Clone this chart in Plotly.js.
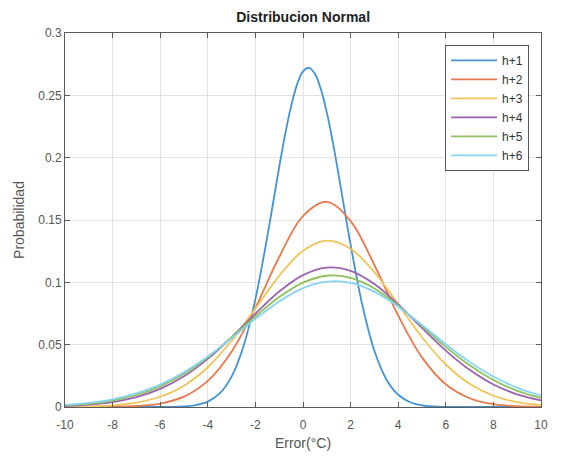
<!DOCTYPE html>
<html>
<head>
<meta charset="utf-8">
<script src="https://cdn.plot.ly/plotly-3.0.1.min.js"></script>
<style>html,body{margin:0;padding:0;background:#fff;}#chart{width:572px;height:456px;}</style>
</head>
<body>
<div id="chart"></div>
<script>
// x grids
const xFine = [-10,-9.5,-9,-8.5,-8,-7.5,-7,-6.5,-6,-5.5,-5,-4.5,-4,-3.5,-3,-2.5,-2,-1.5,-1,-0.75,-0.5,-0.25,0,0.25,0.5,0.75,1,1.25,1.5,2,2.5,3,3.5,4,4.5,5,5.5,6,6.5,7,7.5,8,8.5,9,9.5,10];
const xCoarse = [-10,-9,-8,-7,-6,-5,-4,-3,-2,-1,0,1,2,3,4,5,6,7,8,9,10];

const seriesNames = ["h+1","h+2","h+3","h+4","h+5","h+6"];

// h+1 (on xFine)
const h1 = [0,0,0,0,0,0,0,0,0.00003,0.00013,0.00048,0.00153,0.00432,0.01088,0.0244,0.0487,0.0865,0.1368,0.1925,0.2187,0.2413,0.2586,0.2692,0.2721,0.2673,0.2550,0.2363,0.2127,0.1859,0.1302,0.0812,0.0451,0.0223,0.0098,0.00384,0.00134,0.00041,0.00011,0.00003,0.00001,0,0,0,0,0,0];
// h+2 .. h+6 (on xCoarse)
const h2 = [0.000006,0.000037,0.000186,0.000784,0.00278,0.0083,0.0209,0.0444,0.0796,0.1203,0.1532,0.1646,0.1491,0.1139,0.0734,0.0398,0.0182,0.00705,0.00229,0.00063,0.000146];
const h3 = [0.000143,0.000466,0.00136,0.00353,0.00823,0.0171,0.0319,0.0531,0.079,0.1052,0.1253,0.1334,0.127,0.1081,0.0823,0.056,0.0341,0.0186,0.00904,0.00393,0.00153];
const h4 = [0.0008,0.00186,0.00399,0.00792,0.01453,0.0246,0.0386,0.0559,0.0748,0.0926,0.1058,0.1118,0.1092,0.0986,0.0822,0.0634,0.0452,0.0298,0.0181,0.0102,0.0053];
const h5 = [0.00123,0.00263,0.00521,0.00963,0.0166,0.0267,0.0399,0.0558,0.0726,0.0882,0.0998,0.1053,0.1036,0.0951,0.0813,0.0649,0.0482,0.0334,0.0216,0.013,0.0073];
const h6 = [0.00164,0.00328,0.00617,0.01088,0.018,0.0279,0.0405,0.0552,0.0707,0.0847,0.0954,0.1006,0.0996,0.0925,0.0805,0.0658,0.0504,0.0362,0.0244,0.0154,0.0091];

const xTicks = [-10,-8,-6,-4,-2,0,2,4,6,8,10];
const yTicks = [0,0.05,0.1,0.15,0.2,0.25,0.3];
const yTickText = ["0","0.05","0.1","0.15","0.2","0.25","0.3"];

const colors = ["#4494d4","#e77a4e","#f1c457","#9c63ae","#8fc159","#84d5f4"];
const xs = [xFine, xCoarse, xCoarse, xCoarse, xCoarse, xCoarse];
const ys = [h1, h2, h3, h4, h5, h6];

const traces = seriesNames.map((n, i) => ({
  type: "scatter", mode: "lines", name: n,
  x: xs[i], y: ys[i],
  line: {color: colors[i], width: 1.8, shape: "spline", smoothing: 1}
}));

const font = "Liberation Sans, Arial, Helvetica, sans-serif";
const axisCommon = {
  showline: true, mirror: "ticks", linecolor: "#5a5a5a", linewidth: 1,
  ticks: "inside", ticklen: 5, tickcolor: "#5a5a5a", tickwidth: 1,
  showgrid: true, gridcolor: "#e3e3e3", gridwidth: 1, zeroline: false,
  tickfont: {family: font, size: 12, color: "#555"}
};

const layout = {
  width: 572, height: 456,
  margin: {l: 65, r: 31, t: 33, b: 49, pad: 0},
  paper_bgcolor: "#fff", plot_bgcolor: "#fff",
  title: {text: "<b>Distribucion Normal</b>", x: 0.53, xanchor: "center", y: 0.963, yanchor: "middle",
          font: {family: font, size: 14, color: "#222"}},
  xaxis: Object.assign({}, axisCommon, {
    range: [-10, 10], tickvals: xTicks, ticktext: xTicks.map(String),
    ticklabelstandoff: 7,
    title: {text: "Error(°C)", standoff: 6, font: {family: font, size: 14, color: "#555"}}
  }),
  yaxis: Object.assign({}, axisCommon, {
    range: [0, 0.3], tickvals: yTicks, ticktext: yTickText,
    title: {text: "Probabilidad", standoff: 10, font: {family: font, size: 14, color: "#555"}}
  }),
  showlegend: true,
  legend: {
    x: 0.975, xanchor: "right", y: 0.968, yanchor: "top",
    bgcolor: "#fff", bordercolor: "#555", borderwidth: 1,
    font: {family: font, size: 12, color: "#333"},
    itemwidth: 46,
    tracegroupgap: 0
  }
};

Plotly.newPlot("chart", traces, layout, {staticPlot: true, displayModeBar: false});
</script>
</body>
</html>
